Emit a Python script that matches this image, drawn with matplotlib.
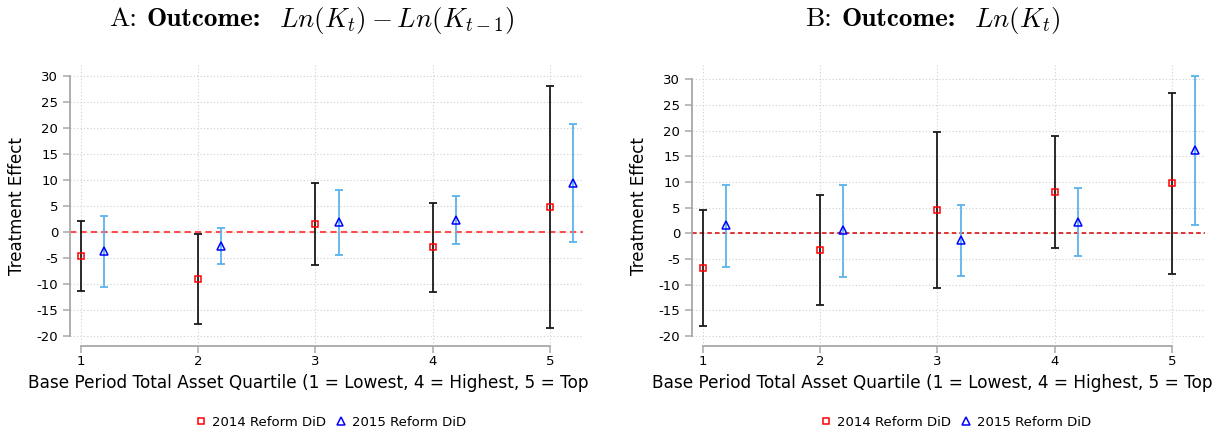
import matplotlib
matplotlib.use("Agg")
import matplotlib.pyplot as plt
from matplotlib.offsetbox import TextArea, HPacker, AnchoredOffsetbox
import numpy as np

plt.rcParams['mathtext.fontset'] = 'cm'
plt.rcParams['axes.unicode_minus'] = False
plt.rcParams['font.family'] = ['DejaVu Sans']

# ---- data ----
quartiles = [1, 2, 3, 4, 5]
offset_2015 = 0.2

# Panel A: Ln(K_t) - Ln(K_{t-1})
a_2014_est = [-4.6, -9.0, 1.5, -2.9, 4.8]
a_2014_lo = [-11.3, -17.7, -6.3, -11.5, -18.4]
a_2014_hi = [2.05, -0.3, 9.35, 5.6, 28.0]
a_2015_est = [-3.6, -2.6, 1.9, 2.4, 9.5]
a_2015_lo = [-10.6, -6.2, -4.5, -2.4, -1.9]
a_2015_hi = [3.1, 0.8, 8.1, 7.0, 20.7]

# Panel B: Ln(K_t)
b_2014_est = [-6.75, -3.3, 4.5, 8.05, 9.75]
b_2014_lo = [-18.0, -14.0, -10.6, -2.8, -7.9]
b_2014_hi = [4.55, 7.5, 19.7, 18.9, 27.4]
b_2015_est = [1.6, 0.6, -1.3, 2.3, 16.2]
b_2015_lo = [-6.5, -8.6, -8.3, -4.5, 1.7]
b_2015_hi = [9.4, 9.5, 5.5, 8.9, 30.7]

yticks = [-20, -15, -10, -5, 0, 5, 10, 15, 20, 25, 30]
title_prefix = ["A:", "B:"]
title_bold = "Outcome:"
title_math = [r"$Ln(K_t) - Ln(K_{t-1})$", r"$Ln(K_t)$"]
xlabel = "Base Period Total Asset Quartile (1 = Lowest, 4 = Highest, 5 = Top"
ylabel = "Treatment Effect"
legend_labels = ["2014 Reform DiD", "2015 Reform DiD"]

W, H = 1226, 438
fig = plt.figure(figsize=(W / 100, H / 100), dpi=100)

panels = [
    dict(left=70, ylim=(-21.92, 32.12), zero_color='#ff4d4d', zero_lw=1.5,
         est14=a_2014_est, lo14=a_2014_lo, hi14=a_2014_hi,
         est15=a_2015_est, lo15=a_2015_lo, hi15=a_2015_hi, title_x=312, xl_x=308, lg_x=331),
    dict(left=692, ylim=(-21.95, 32.8), zero_color='#d40000', zero_lw=1.1,
         est14=b_2014_est, lo14=b_2014_lo, hi14=b_2014_hi,
         est15=b_2015_est, lo15=b_2015_lo, hi15=b_2015_hi, title_x=933, xl_x=932, lg_x=956),
]

spine_col = '#a8a8a8'
black = '#1a1a1a'
lightblue = '#5cb3ea'
TS = 19.5

for i, p in enumerate(panels):
    ax = fig.add_axes([p['left'] / W, (H - 346) / H, 513 / W, 281 / H])
    ax.set_xlim(0.909, 5.281)
    ax.set_ylim(*p['ylim'])
    ax.set_yticks(yticks)
    ax.set_xticks(quartiles)
    ax.set_yticklabels([str(t) for t in yticks])
    ax.grid(True, color='#cfcfcf', linestyle=(0, (1, 2)), linewidth=0.8)
    ax.set_axisbelow(True)
    for s in ['top', 'right']:
        ax.spines[s].set_visible(False)
    for s in ['left', 'bottom']:
        ax.spines[s].set_color(spine_col)
        ax.spines[s].set_linewidth(1.3)
    ax.spines['left'].set_bounds(-20, 30)
    ax.spines['bottom'].set_bounds(1, 5)
    ax.tick_params(axis='both', direction='out', length=5, width=1.1, color=spine_col,
                   labelsize=9.5, labelcolor='black')
    ax.tick_params(axis='y', pad=3.5)
    ax.tick_params(axis='x', pad=1.5)

    ax.axhline(0, color=p['zero_color'], lw=p['zero_lw'], linestyle=(0, (3, 2)), zorder=1)

    x14 = np.array(quartiles, dtype=float)
    x15 = x14 + offset_2015
    e14 = np.array(p['est14']); e15 = np.array(p['est15'])
    ax.errorbar(x14, e14, yerr=[e14 - np.array(p['lo14']), np.array(p['hi14']) - e14],
                fmt='none', ecolor=black, elinewidth=1.3, capsize=3, capthick=1.3, zorder=3)
    ax.errorbar(x15, e15, yerr=[e15 - np.array(p['lo15']), np.array(p['hi15']) - e15],
                fmt='none', ecolor=lightblue, elinewidth=1.3, capsize=3, capthick=1.3, zorder=3)
    h1, = ax.plot(x14, e14, linestyle='none', marker='s', markersize=5, mfc='none',
                  mec='#ff0000', mew=1.1, zorder=4, label=legend_labels[0])
    h2, = ax.plot(x15, e15, linestyle='none', marker='^', markersize=5.5, mfc='none',
                  mec='#0000ff', mew=1.1, zorder=4, label=legend_labels[1])

    # title built from pieces: roman prefix, bold word, math expression
    t1 = TextArea(title_prefix[i], textprops=dict(fontfamily='cmr10', fontsize=TS))
    t2 = TextArea(title_bold, textprops=dict(fontfamily='cmb10', fontsize=TS))
    t3 = TextArea(title_math[i], textprops=dict(fontsize=TS))
    inner = HPacker(children=[t1, t2], align='baseline', pad=0, sep=7)
    pack = HPacker(children=[inner, t3], align='baseline', pad=0, sep=13)
    box = AnchoredOffsetbox(loc='center', child=pack, pad=0, frameon=False,
                            bbox_to_anchor=(p['title_x'] / W, 1 - 20 / H),
                            bbox_transform=fig.transFigure, borderpad=0)
    fig.add_artist(box)

    fig.text(p['xl_x'] / W, 1 - 383 / H, xlabel, ha='center', va='center', fontsize=12.2)
    fig.text((p['left'] - 53) / W, 1 - 206 / H, ylabel, ha='center', va='center',
             rotation=90, fontsize=12)
    fig.legend(handles=[h1, h2], loc='center', bbox_to_anchor=(p['lg_x'] / W, 1 - 422 / H),
               ncol=2, frameon=False, fontsize=9.5, handlelength=0.8, handletextpad=0.4,
               columnspacing=0.8)

fig.savefig("out.png", dpi=100)
